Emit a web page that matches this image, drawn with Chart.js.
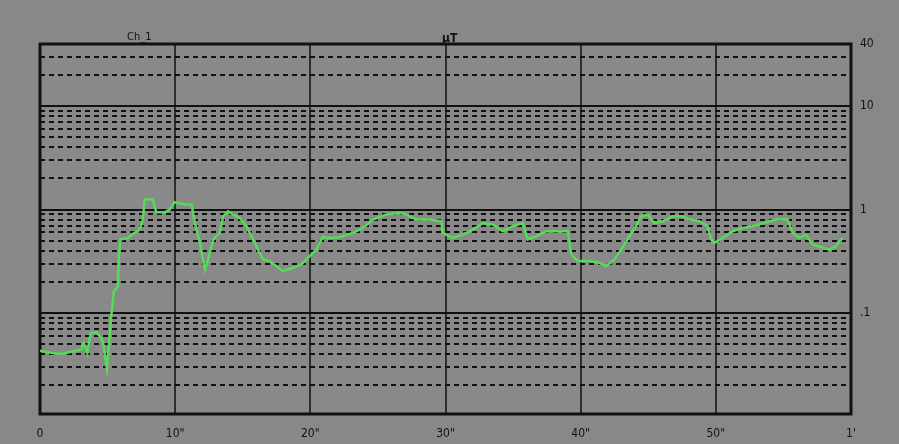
<!DOCTYPE html>
<html>
<head>
<meta charset="utf-8">
<script src="https://cdn.jsdelivr.net/npm/chart.js@4/dist/chart.umd.min.js"></script>
<style>
  html, body { margin: 0; padding: 0; background: #888888; }
  #wrap { width: 899px; height: 444px; position: relative; }
</style>
</head>
<body>
<div id="wrap"><canvas id="c" width="899" height="444"></canvas></div>
<script>
// field over one minute
const timeSec = [0.0, 0.84, 1.57, 2.31, 3.05, 3.23, 3.5, 3.75, 4.16, 4.41, 4.66, 4.95, 5.1, 5.27, 5.47, 5.76, 5.84, 5.96, 6.5, 7.0, 7.37, 7.61, 7.74, 8.35, 8.6, 9.22, 9.59, 9.96, 10.69, 11.21, 11.46, 11.83, 12.2, 12.44, 12.81, 13.3, 13.55, 13.92, 14.29, 14.78, 15.28, 15.65, 16.13, 16.5, 17.0, 17.49, 17.98, 18.72, 19.34, 19.96, 20.45, 20.94, 21.19, 22.17, 23.16, 23.9, 24.63, 25.62, 26.61, 27.1, 27.84, 28.83, 29.69, 29.81, 30.55, 31.54, 32.03, 32.76, 33.5, 34.24, 34.98, 35.72, 36.09, 36.71, 37.45, 39.05, 39.3, 39.79, 40.65, 41.39, 41.88, 42.5, 43.11, 43.61, 44.1, 44.47, 44.96, 45.45, 46.07, 46.81, 47.55, 48.04, 48.78, 49.39, 49.65, 49.89, 50.5, 51.24, 51.98, 52.72, 54.45, 55.31, 55.68, 56.17, 56.67, 57.16, 58.39, 58.88, 59.37];
const fieldUT = [0.043, 0.041, 0.040, 0.042, 0.044, 0.051, 0.041, 0.063, 0.065, 0.060, 0.052, 0.029, 0.048, 0.093, 0.163, 0.18, 0.354, 0.513, 0.53, 0.595, 0.64, 0.80, 1.25, 1.25, 0.94, 0.94, 1.0, 1.18, 1.12, 1.12, 0.74, 0.476, 0.263, 0.329, 0.513, 0.595, 0.86, 0.96, 0.895, 0.83, 0.69, 0.552, 0.41, 0.329, 0.317, 0.283, 0.253, 0.273, 0.294, 0.354, 0.41, 0.552, 0.53, 0.54, 0.595, 0.665, 0.80, 0.895, 0.93, 0.895, 0.80, 0.80, 0.77, 0.595, 0.53, 0.595, 0.64, 0.74, 0.716, 0.617, 0.69, 0.74, 0.513, 0.552, 0.617, 0.617, 0.367, 0.317, 0.317, 0.305, 0.283, 0.329, 0.43, 0.552, 0.69, 0.86, 0.895, 0.74, 0.77, 0.86, 0.86, 0.80, 0.77, 0.69, 0.513, 0.476, 0.53, 0.617, 0.665, 0.69, 0.80, 0.80, 0.595, 0.53, 0.573, 0.46, 0.41, 0.44, 0.53];

const xTickValues = [0, 10, 20, 30, 40, 50, 60];
const xTickLabels = ['0', '10"', '20"', '30"', '40"', '50"', "1'"];
const yTickValues = [40, 10, 1, 0.1];
const yTickLabels = ['40', '10', '1', '.1'];
const channelName = 'Ch_1';
const unitName = 'µT';

const yMin = 0.0105, yMax = 40;
const labelFont = '"DejaVu Sans Condensed", "Liberation Sans Narrow", "Liberation Sans", sans-serif';

// grid, frame and header text
const scopeGrid = {
  id: 'scopeGrid',
  beforeDatasetsDraw(chart) {
    const ctx = chart.ctx;
    const a = chart.chartArea;
    const x = chart.scales.x, y = chart.scales.y;
    ctx.save();
    ctx.fillStyle = '#898989';
    ctx.fillRect(a.left, a.top, a.right - a.left, a.bottom - a.top);

    // dashed minor lines 2..9 in each decade
    ctx.strokeStyle = '#111';
    ctx.lineWidth = 2;
    ctx.setLineDash([5, 4]);
    for (let d = 0.01; d < 100; d *= 10) {
      for (let m = 2; m <= 9; m++) {
        const v = m * d;
        if (v <= yMin || v >= yMax) continue;
        const py = Math.round(y.getPixelForValue(v));
        ctx.beginPath();
        ctx.moveTo(a.left, py);
        ctx.lineTo(a.right, py);
        ctx.stroke();
      }
    }
    ctx.setLineDash([]);

    // decades
    yTickValues.forEach(v => {
      if (v >= yMax) return;
      const py = Math.round(y.getPixelForValue(v));
      ctx.beginPath();
      ctx.moveTo(a.left, py);
      ctx.lineTo(a.right, py);
      ctx.stroke();
    });

    // seconds
    ctx.lineWidth = 1.5;
    xTickValues.forEach(v => {
      const px = Math.round(x.getPixelForValue(v));
      ctx.beginPath();
      ctx.moveTo(px, a.top);
      ctx.lineTo(px, a.bottom);
      ctx.stroke();
    });

    ctx.lineWidth = 3;
    ctx.strokeRect(a.left, a.top, a.right - a.left, a.bottom - a.top);

    ctx.fillStyle = '#111';
    ctx.textBaseline = 'alphabetic';
    ctx.font = '11px ' + labelFont;
    ctx.fillText(channelName, 127, 40);
    ctx.font = 'bold 12px ' + labelFont;
    ctx.fillText(unitName, 442, 42);
    ctx.restore();
  }
};

new Chart(document.getElementById('c'), {
  type: 'line',
  data: {
    datasets: [{
      data: timeSec.map((t, i) => ({ x: t, y: fieldUT[i] })),
      borderColor: '#55dc55',
      borderWidth: 2.5,
      pointRadius: 0,
      tension: 0,
      fill: false
    }]
  },
  options: {
    responsive: false,
    animation: false,
    layout: { padding: { left: 40, top: 44, right: 0, bottom: 0 } },
    plugins: { legend: { display: false }, tooltip: { enabled: false } },
    scales: {
      x: {
        type: 'linear',
        min: 0,
        max: 60,
        afterBuildTicks: s => { s.ticks = xTickValues.map(v => ({ value: v })); },
        afterFit: s => { s.height = 30; },
        grid: { display: false },
        border: { display: false },
        ticks: {
          autoSkip: false,
          maxRotation: 0,
          padding: 5,
          color: '#111',
          font: { family: labelFont, size: 12 },
          callback: (v, i) => xTickLabels[i]
        }
      },
      y: {
        type: 'logarithmic',
        position: 'right',
        min: yMin,
        max: yMax,
        afterBuildTicks: s => { s.ticks = yTickValues.map(v => ({ value: v })); },
        afterFit: s => { s.width = 48; },
        grid: { display: false, drawTicks: false },
        border: { display: false },
        ticks: {
          padding: 9,
          color: '#111',
          font: { family: labelFont, size: 12 },
          callback: (v, i) => yTickLabels[i]
        }
      }
    }
  },
  plugins: [scopeGrid]
});
</script>
</body>
</html>
